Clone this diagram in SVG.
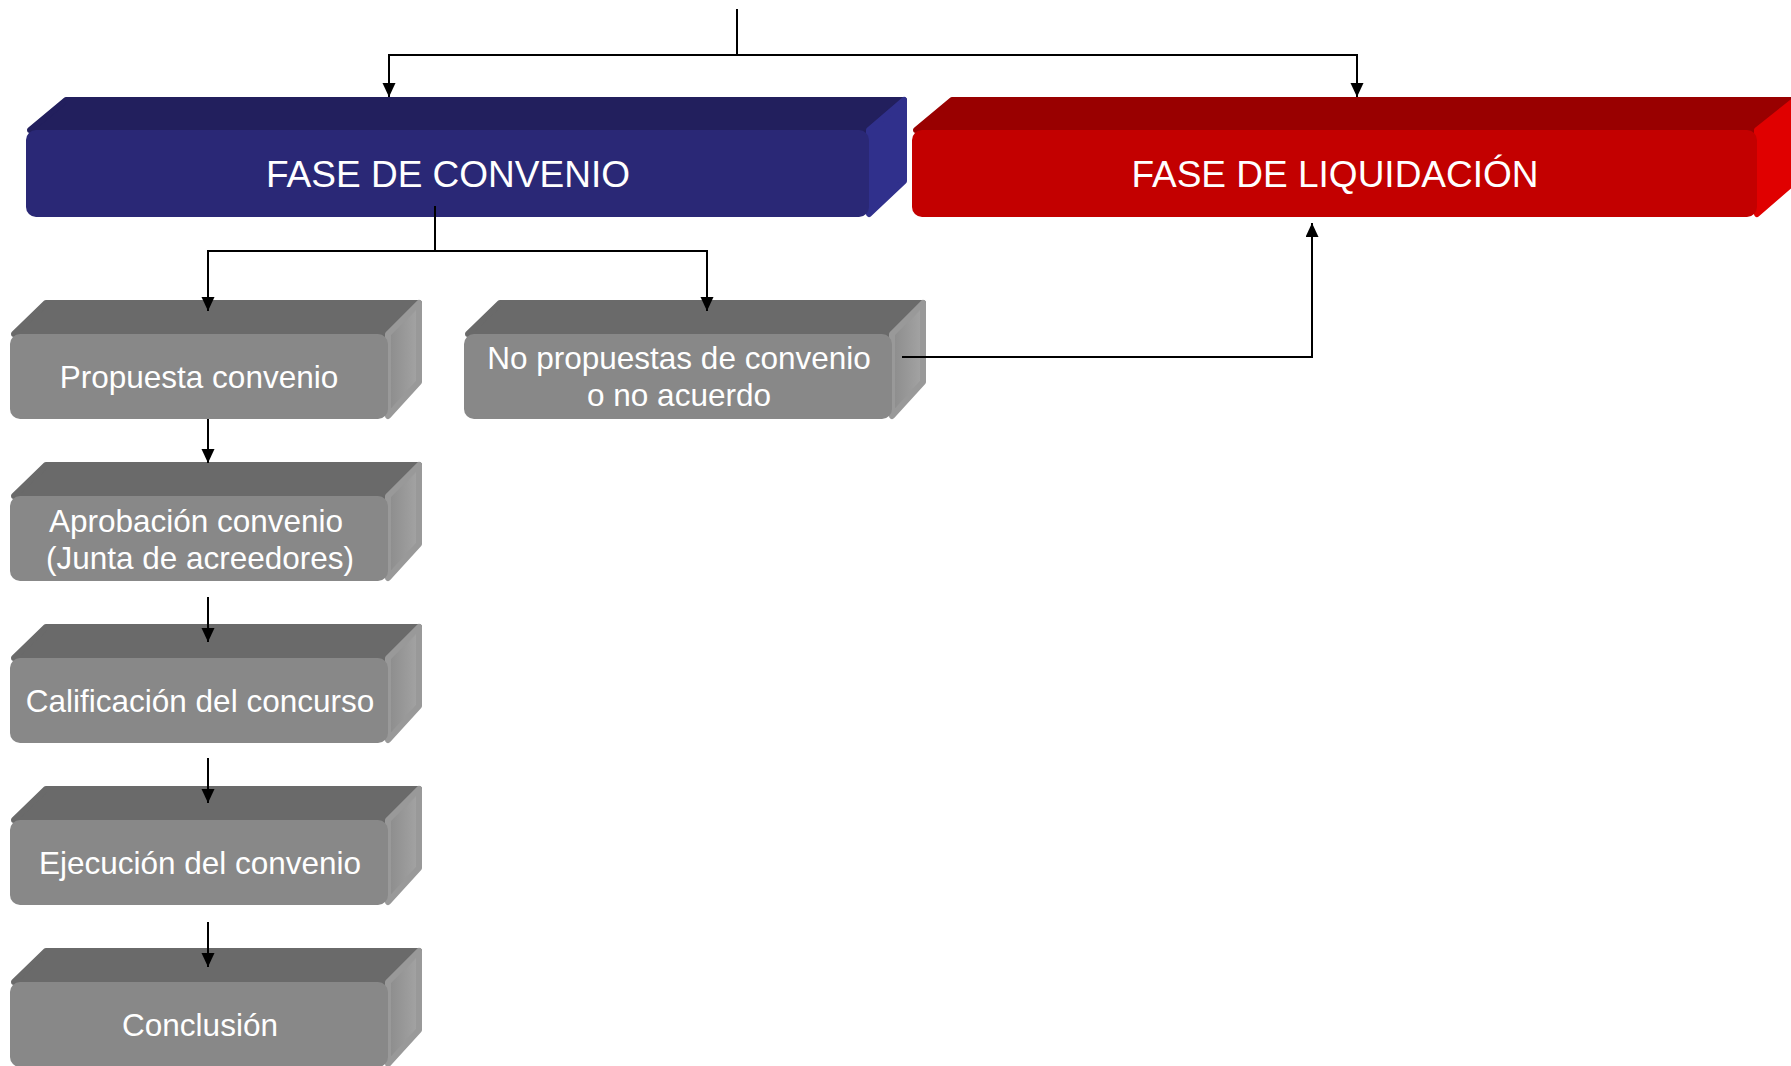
<svg xmlns="http://www.w3.org/2000/svg" width="1791" height="1066" viewBox="0 0 1791 1066">
<defs>
<style>
.t{font-family:"Liberation Sans",Arial,sans-serif;fill:#ffffff;text-anchor:middle}
.tb{font-size:37px}
.tg{font-size:31.5px}
.c{fill:none;stroke:#000;stroke-width:2}
.f{stroke-width:6;stroke-linejoin:round}
.gf{fill:#888888}.gt{fill:#6a6a6a;stroke:#6a6a6a}.gr{fill:url(#grR);stroke:#999999}
.bf{fill:#2a2876}.bt{fill:#221f5d;stroke:#221f5d}.br{fill:#30308c;stroke:#30308c}
.rf{fill:#c30000}.rt{fill:#990000;stroke:#990000}.rr{fill:#e00000;stroke:#e00000}
</style>
<linearGradient id="grR" x1="0" y1="0" x2="1" y2="0">
<stop offset="0" stop-color="#8c8c8c"/><stop offset="1" stop-color="#a4a4a4"/>
</linearGradient>
<marker id="ah" markerUnits="userSpaceOnUse" markerWidth="15" markerHeight="14" refX="14" refY="6.5" orient="auto">
<path d="M0,0 L14,6.5 L0,13 z" fill="#000"/>
</marker>
</defs>
<rect width="1791" height="1066" fill="#ffffff"/>

<g id="fase-convenio">
<polygon class="f bt" points="30,130 66,100 904,100 869,130"/>
<polygon class="f br" points="869,130 904,100 904,181 869,214"/>
<rect class="bf" x="26" y="130" width="843" height="87" rx="10"/>
<text class="t tb" x="448" y="187">FASE DE CONVENIO</text>
</g>

<g id="fase-liquidacion">
<polygon class="f rt" points="916,130 952,100 1795,100 1757,130"/>
<polygon class="f rr" points="1757,130 1795,100 1795,181 1757,214"/>
<rect class="rf" x="912" y="130" width="845" height="87" rx="10"/>
<text class="t tb" x="1335" y="187">FASE DE LIQUIDACIÓN</text>
</g>

<g id="propuesta">
<polygon class="f gt" points="14,334 46,303 419,303 388,334"/>
<polygon class="f gr" points="388,334 419,303 419,382 388,416"/>
<rect class="gf" x="10" y="334" width="378" height="85" rx="10"/>
<text class="t tg" x="199" y="388">Propuesta convenio</text>
</g>

<g id="no-propuestas">
<polygon class="f gt" points="468,334 500,303 923,303 892,334"/>
<polygon class="f gr" points="892,334 923,303 923,382 892,416"/>
<rect class="gf" x="464" y="334" width="428" height="85" rx="10"/>
<text class="t tg" x="679" y="369">No propuestas de convenio</text>
<text class="t tg" x="679" y="406">o no acuerdo</text>
</g>

<g id="aprobacion">
<polygon class="f gt" points="14,496 46,465 419,465 388,496"/>
<polygon class="f gr" points="388,496 419,465 419,544 388,578"/>
<rect class="gf" x="10" y="496" width="378" height="85" rx="10"/>
<text class="t tg" x="196" y="532">Aprobación convenio</text>
<text class="t tg" x="200" y="569">(Junta de acreedores)</text>
</g>

<g id="calificacion">
<polygon class="f gt" points="14,658 46,627 419,627 388,658"/>
<polygon class="f gr" points="388,658 419,627 419,706 388,740"/>
<rect class="gf" x="10" y="658" width="378" height="85" rx="10"/>
<text class="t tg" x="200" y="712">Calificación del concurso</text>
</g>

<g id="ejecucion">
<polygon class="f gt" points="14,820 46,789 419,789 388,820"/>
<polygon class="f gr" points="388,820 419,789 419,868 388,902"/>
<rect class="gf" x="10" y="820" width="378" height="85" rx="10"/>
<text class="t tg" x="200" y="874">Ejecución del convenio</text>
</g>

<g id="conclusion">
<polygon class="f gt" points="14,982 46,951 419,951 388,982"/>
<polygon class="f gr" points="388,982 419,951 419,1030 388,1064"/>
<rect class="gf" x="10" y="982" width="378" height="85" rx="10"/>
<text class="t tg" x="200" y="1036">Conclusión</text>
</g>

<g id="connectors">
<polyline class="c" points="737,9 737,55"/>
<polyline class="c" points="737,55 389,55 389,97" marker-end="url(#ah)"/>
<polyline class="c" points="737,55 1357,55 1357,97" marker-end="url(#ah)"/>
<polyline class="c" points="435,206 435,251"/>
<polyline class="c" points="435,251 208,251 208,311" marker-end="url(#ah)"/>
<polyline class="c" points="435,251 707,251 707,311" marker-end="url(#ah)"/>
<polyline class="c" points="902,357 1312,357 1312,223" marker-end="url(#ah)"/>
<line class="c" x1="208" y1="419" x2="208" y2="463" marker-end="url(#ah)"/>
<line class="c" x1="208" y1="597" x2="208" y2="642" marker-end="url(#ah)"/>
<line class="c" x1="208" y1="758" x2="208" y2="803" marker-end="url(#ah)"/>
<line class="c" x1="208" y1="922" x2="208" y2="967" marker-end="url(#ah)"/>
</g>
</svg>
